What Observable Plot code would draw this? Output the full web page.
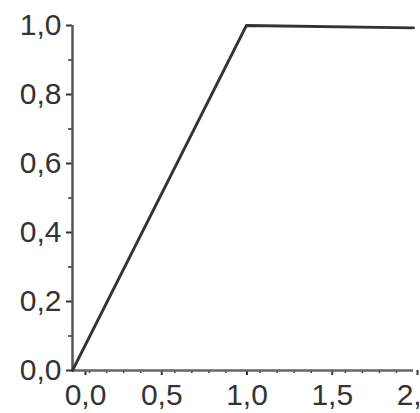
<!DOCTYPE html>
<html>
<head>
<meta charset="utf-8">
<script src="https://cdn.jsdelivr.net/npm/d3@7"></script>
<script src="https://cdn.jsdelivr.net/npm/@observablehq/plot@0.6"></script>
<style>
  html, body { margin: 0; padding: 0; background: #fff; }
  svg { display: block; }
</style>
</head>
<body>
<div id="chart"></div>
<script>
const xValues = [0, 1.02, 2];
const yValues = [0, 1, 0.993];
const xTicksFirst = [0];
const xTicks = [0.5, 1, 1.5, 2];
const yTicks = [0, 0.2, 0.4, 0.6, 0.8, 1.0];
const xMinor = [0.1,0.2,0.3,0.4,0.6,0.7,0.8,0.9,1.1,1.2,1.3,1.4,1.6,1.7,1.8,1.9];
const yMinor = [0.1, 0.3, 0.5, 0.7, 0.9];

const data = xValues.map((x, i) => ({x, y: yValues[i]}));
const fmt = d => d3.format(".1f")(d).replace(".", ",");

const chart = Plot.plot({
  width: 420,
  height: 413,
  marginLeft: 72,
  marginRight: 7,
  marginTop: 25,
  marginBottom: 43,
  style: {fontFamily: "'Liberation Sans', Arial, sans-serif", fontSize: "30px", color: "#333", background: "#fff"},
  x: {type: "linear", domain: [0, 2]},
  y: {type: "linear", domain: [0, 1]},
  marks: [
    Plot.axisX(xTicksFirst, {tickSize: 5, tickPadding: 8, tickFormat: fmt, dx: 13, fontSize: 30, fill: "#333", strokeWidth: 2, label: null}),
    Plot.axisX(xTicks, {tickSize: 5, tickPadding: 8, tickFormat: fmt, dx: 4, fontSize: 30, fill: "#333", strokeWidth: 2, label: null}),
    Plot.axisX(xMinor, {tickSize: 3, tickFormat: () => "", strokeWidth: 1.5, label: null}),
    Plot.axisY(yTicks, {tickSize: 6, tickPadding: 5, tickFormat: fmt, fontSize: 30, fill: "#333", strokeWidth: 2, label: null}),
    Plot.axisY(yMinor, {tickSize: 4, tickFormat: () => "", strokeWidth: 1.5, label: null}),
    Plot.ruleX([0], {stroke: "#555", strokeWidth: 2.5}),
    Plot.ruleY([0], {stroke: "#666", strokeWidth: 2.5}),
    Plot.line(data, {x: "x", y: "y", stroke: "#333", strokeWidth: 2.8})
  ]
});
document.getElementById("chart").appendChild(chart);
</script>
</body>
</html>
